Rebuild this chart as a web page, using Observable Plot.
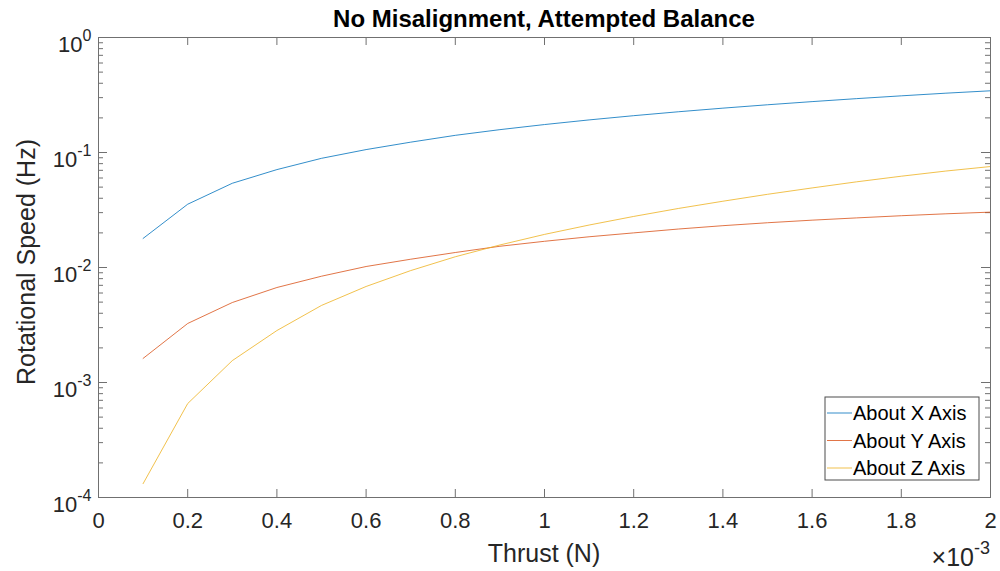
<!DOCTYPE html>
<html>
<head>
<meta charset="utf-8">
<script src="https://cdn.jsdelivr.net/npm/d3@7"></script>
<script src="https://cdn.jsdelivr.net/npm/@observablehq/plot@0.6"></script>
<style>
  html, body { margin: 0; padding: 0; background: #fff; }
  #chart svg { display: block; }
</style>
</head>
<body>
<div id="chart"></div>
<script>
// ---- Data ----
const thrust = [0.0001,0.0002,0.0003,0.0004,0.0005,0.0006,0.0007,0.0008,0.0009,0.0010,
                0.0011,0.0012,0.0013,0.0014,0.0015,0.0016,0.0017,0.0018,0.0019,0.0020];
const aboutX = [0.0179,0.0355,0.054,0.071,0.089,0.106,0.123,0.141,0.158,0.175,
                0.192,0.209,0.226,0.243,0.260,0.277,0.294,0.311,0.328,0.344];
const aboutY = [0.00162,0.00326,0.00496,0.0067,0.0084,0.0102,0.0118,0.0135,0.0153,0.0169,
                0.0185,0.0200,0.0216,0.0231,0.0245,0.0258,0.0270,0.0282,0.0293,0.0303];
const aboutZ = [0.000132,0.000656,0.00155,0.00283,0.00468,0.00684,0.0094,0.0124,0.0157,0.0194,
                0.0234,0.0278,0.0326,0.0377,0.0433,0.0492,0.0556,0.0622,0.0690,0.0755];
const seriesNames = ["About X Axis","About Y Axis","About Z Axis"];
const seriesColors = ["#0072BD","#D95319","#EDB120"];
const xTicks = [0,0.0002,0.0004,0.0006,0.0008,0.0010,0.0012,0.0014,0.0016,0.0018,0.0020];
const yMajor = [1e-4,1e-3,1e-2,1e-1,1];
const yMinorFactors = [2,3,4,5,6,7,8,9];
const titleText = "No Misalignment, Attempted Balance";
const xLabel = "Thrust (N)";
const yLabel = "Rotational Speed (Hz)";

// ---- Build table ----
const seriesVals = [aboutX, aboutY, aboutZ];
const rows = [];
seriesNames.forEach((name, s) => thrust.forEach((t, i) => rows.push({series: name, x: t, y: seriesVals[s][i]})));
const yMinor = yMajor.slice(0, -1).flatMap(d => yMinorFactors.map(f => d * f));

const W = 1000, H = 571;
const mL = 98, mR = 10, mT = 37, mB = 74;
const pw = W - mL - mR, ph = H - mT - mB;
const axisCol = "#262626";
const boxCol = "#707070";
const font = "'Liberation Sans', Arial, Helvetica, sans-serif";

const plot = Plot.plot({
  width: W, height: H,
  marginLeft: mL, marginRight: mR, marginTop: mT, marginBottom: mB,
  style: {fontFamily: font, background: "#fff", color: axisCol},
  x: {domain: [0, 0.002]},
  y: {type: "log", domain: [1e-4, 1]},
  color: {domain: seriesNames, range: seriesColors},
  marks: [
    Plot.axisX(xTicks, {tickSize: 0, tickPadding: 15, fontSize: 22, fill: axisCol, label: null,
      tickFormat: d => String(Math.round(d * 1e4) / 10)}),
    Plot.axisY(yMajor, {tickSize: 0, tickPadding: 7, fontSize: 22, fill: axisCol, label: null, dy: 7,
      tickFormat: d => "10^" + Math.round(Math.log10(d))}),
    // tick marks pointing inward (MATLAB box style)
    Plot.tickX(xTicks, {x: d => d, insetTop: ph - 8, stroke: boxCol}),
    Plot.tickX(xTicks, {x: d => d, insetBottom: ph - 8, stroke: boxCol}),
    Plot.tickY(yMajor, {y: d => d, insetRight: pw - 9, stroke: boxCol}),
    Plot.tickY(yMajor, {y: d => d, insetLeft: pw - 9, stroke: boxCol}),
    Plot.tickY(yMinor, {y: d => d, insetRight: pw - 5, stroke: boxCol}),
    Plot.tickY(yMinor, {y: d => d, insetLeft: pw - 5, stroke: boxCol}),
    Plot.line(rows, {x: "x", y: "y", z: "series", stroke: "series", strokeWidth: 1, strokeOpacity: 0.8}),
    Plot.frame({stroke: boxCol, strokeWidth: 1})
  ]
});

document.getElementById("chart").appendChild(plot);
const svg = d3.select(plot);

// superscript y tick labels
svg.selectAll("g[aria-label='y-axis tick label'] text").each(function() {
  const t = d3.select(this);
  const s = t.text();
  const exp = s.split("^")[1];
  t.text(null);
  t.append("tspan").text("10");
  t.append("tspan").attr("dy", -10.7).attr("font-size", 16).text(exp);
});

// title
svg.append("text").attr("x", mL + pw / 2).attr("y", 26.5)
  .attr("text-anchor", "middle").attr("font-size", 24).attr("font-weight", "bold")
  .attr("fill", "#000").attr("font-family", font).text(titleText);
// x label
svg.append("text").attr("x", mL + pw / 2).attr("y", 562)
  .attr("text-anchor", "middle").attr("font-size", 25).attr("fill", axisCol)
  .attr("font-family", font).text(xLabel);
// y label
svg.append("text").attr("transform", `translate(35,${mT + ph / 2 - 5}) rotate(-90)`)
  .attr("text-anchor", "middle").attr("font-size", 25).attr("fill", axisCol)
  .attr("font-family", font).text(yLabel);
// exponent label x10^-3
const ex = svg.append("text").attr("x", 990).attr("y", 566).attr("text-anchor", "end")
  .attr("font-size", 25).attr("fill", axisCol).attr("font-family", font);
ex.append("tspan").text("\u00d710");
ex.append("tspan").attr("dy", -12).attr("font-size", 18).text("-3");

// legend
const lg = svg.append("g").attr("font-family", font).attr("text-anchor", "start");
lg.append("rect").attr("x", 825).attr("y", 397).attr("width", 154).attr("height", 83)
  .attr("fill", "#fff").attr("stroke", "#4d4d4d").attr("stroke-width", 1);
seriesNames.forEach((name, i) => {
  const yy = 413 + i * 27.5;
  lg.append("line").attr("x1", 827).attr("x2", 852).attr("y1", yy).attr("y2", yy)
    .attr("stroke", seriesColors[i]).attr("stroke-opacity", 0.8).attr("stroke-width", 1);
  lg.append("text").attr("x", 853).attr("y", yy).attr("dy", "0.35em")
    .attr("text-anchor", "start").attr("font-size", 20).attr("fill", "#000").text(name);
});
</script>
</body>
</html>
